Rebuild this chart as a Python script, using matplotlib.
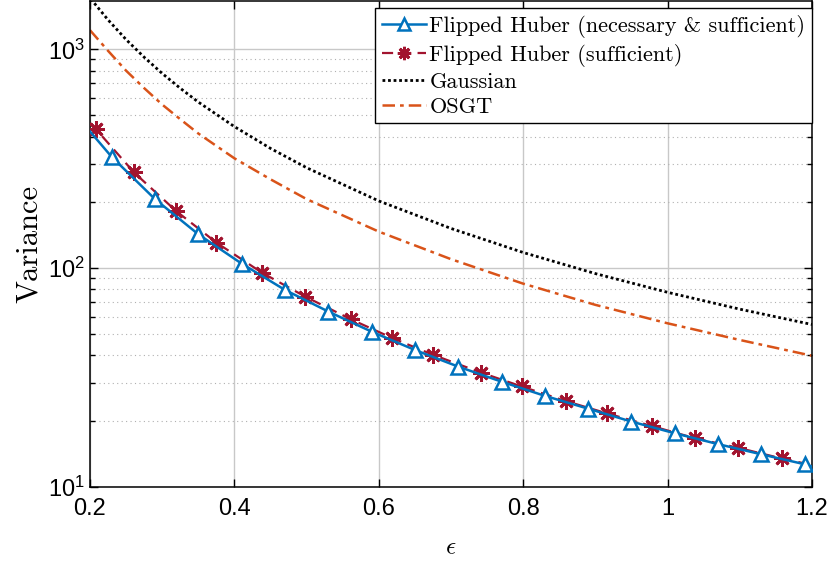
import matplotlib
matplotlib.use("Agg")
import matplotlib.pyplot as plt
from matplotlib.ticker import LogLocator, NullFormatter, FixedLocator

plt.rcParams['mathtext.fontset'] = 'cm'
plt.rcParams['font.family'] = ['Liberation Sans', 'DejaVu Sans']

# values
eps_smooth = [0.2, 0.225, 0.25, 0.275, 0.3, 0.325, 0.35, 0.4, 0.45, 0.5, 0.6,
              0.7, 0.8, 0.9, 1.0, 1.1, 1.2]
gaussian = [1720, 1366, 1110, 922, 777, 665, 575, 444, 353, 288, 203,
            152, 118, 94.5, 77.6, 65, 55.3]
osgt = [1225, 986, 800, 666, 560, 480, 413, 318, 255, 207, 147,
        110, 85, 68, 56, 47, 39.8]

# necessary & sufficient (line end points + triangle positions)
eps_ns = [0.2, 0.23, 0.29, 0.35, 0.41, 0.47, 0.53, 0.59, 0.65, 0.71, 0.77,
          0.83, 0.89, 0.95, 1.01, 1.07, 1.13, 1.19, 1.2]
var_ns = [422, 323, 207, 143, 105, 79.6, 63.4, 51.3, 42.3, 35.5, 30.3,
          26.1, 22.8, 19.9, 17.6, 15.7, 14.1, 12.7, 12.4]

# sufficient (line end points + asterisk positions)
eps_s = [0.2, 0.208, 0.261, 0.319, 0.375, 0.438, 0.498, 0.561, 0.619, 0.675,
         0.742, 0.798, 0.859, 0.916, 0.978, 1.038, 1.098, 1.158, 1.2]
var_s = [460, 433, 274, 183, 131, 95.5, 74.2, 58.5, 47.9, 40.2,
         33.3, 28.8, 24.7, 21.7, 19.0, 16.7, 15.1, 13.5, 12.6]

xticks = [0.2, 0.4, 0.6, 0.8, 1.0, 1.2]
xticklabels = ['0.2', '0.4', '0.6', '0.8', '1', '1.2']

fig = plt.figure(figsize=(8.3, 5.66), dpi=100)
ax = fig.add_axes([0.1084, 0.1396, 0.8699, 0.8586])

l1, = ax.plot(eps_ns, var_ns, color='#0072BD', lw=1.8, marker='^', ms=10,
              mfc='white', mew=1.8, markevery=list(range(1, len(eps_ns) - 1)),
              zorder=4)
l2, = ax.plot(eps_s, var_s, color='#A2142F', lw=1.6, ls=(0, (5, 3)),
              marker=(8, 2, 0), ms=12, mew=2.0,
              markevery=list(range(1, len(eps_s) - 1)), zorder=3)
l3, = ax.plot(eps_smooth, gaussian, color='black', lw=2, ls=(0, (1, 1)))
l4, = ax.plot(eps_smooth, osgt, color='#D95319', lw=1.8, ls=(0, (5, 2, 1.5, 2)))

ax.set_yscale('log')
ax.set_xlim(0.2, 1.2)
ax.set_ylim(10, 1665)
ax.xaxis.set_major_locator(FixedLocator(xticks))
ax.set_xticklabels(xticklabels)
ax.yaxis.set_major_locator(LogLocator(base=10, numticks=10))
ax.yaxis.set_minor_locator(LogLocator(base=10, subs=range(2, 10), numticks=20))
ax.yaxis.set_minor_formatter(NullFormatter())

ax.grid(True, which='major', color='#c8c8c8', lw=1)
ax.grid(True, which='minor', axis='y', color='#b0b0b0', lw=0.8, ls=(0, (1, 3)))
ax.set_axisbelow(True)

ax.tick_params(which='both', direction='in', top=True, right=True,
               labelsize=17, width=1)
ax.tick_params(which='major', length=6)
ax.tick_params(which='minor', length=3.5)
ax.tick_params(axis='x', pad=8)
for s in ax.spines.values():
    s.set_linewidth(1.1)

ax.set_xlabel(r'$\epsilon$', fontsize=18, labelpad=11)
ax.set_ylabel('Variance', fontsize=22, family='cmr10', labelpad=4)

leg = ax.legend([l1, l2, l3, l4],
                ['Flipped Huber (necessary & sufficient)',
                 'Flipped Huber (sufficient)', 'Gaussian', 'OSGT'],
                loc='upper right', bbox_to_anchor=(1.0, 0.985),
                prop={'family': 'cmr10', 'size': 16},
                handlelength=2.0, handletextpad=0.15, borderpad=0.3,
                labelspacing=0.25, borderaxespad=0.0, fancybox=False,
                framealpha=1, edgecolor='black', markerscale=0.8)
leg.get_frame().set_linewidth(1)

fig.savefig('out.png', dpi=100)
